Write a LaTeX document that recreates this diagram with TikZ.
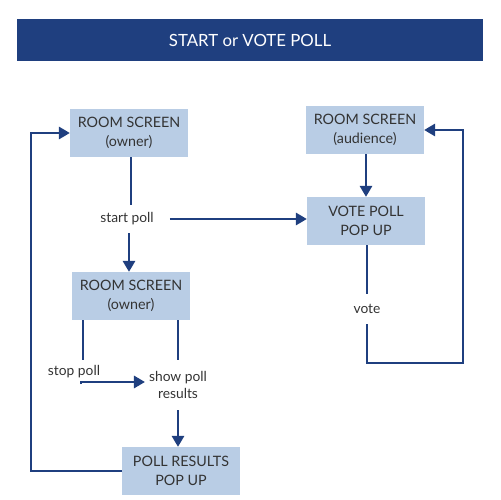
\documentclass[tikz,border=0pt]{standalone}
\usepackage{fontspec}
\setmainfont{Lato}
\usetikzlibrary{arrows.meta,calc}
\definecolor{navy}{HTML}{1F3F7F}
\definecolor{boxblue}{HTML}{B9CDE5}
\definecolor{txt}{HTML}{333333}
\begin{document}
\begin{tikzpicture}[x=1pt,y=-1pt,
  box/.style={fill=boxblue,minimum width=118pt,minimum height=48pt,inner sep=0pt,align=center,text=txt,font=\fontsize{14.3}{18.5}\selectfont},
  lbl/.style={inner sep=0pt,align=center,text=txt,font=\fontsize{13.8}{17}\selectfont},
  conn/.style={draw=navy,line width=1.8pt},
  arr/.style={conn,-{Triangle[length=11pt,width=12.5pt]}}]
\useasboundingbox (0,0) rectangle (501,500);
\node[fill=navy,minimum width=466pt,minimum height=42pt,inner sep=0pt,text=white,font=\fontsize{16.8}{20}\selectfont] (hdr) at (250,40) {START or VOTE POLL};
\node[box] (o1) at (129,133) {ROOM SCREEN\\(owner)};
\node[box] (aud) at (365,130) {ROOM SCREEN\\(audience)};
\node[box] (vp) at (366,221) {VOTE POLL\\POP UP};
\node[box] (o2) at (131,296) {ROOM SCREEN\\(owner)};
\node[box] (pr) at (181,471) {POLL RESULTS\\POP UP};
\node[lbl,minimum height=28pt] (sp) at (127,219) {start poll};
\node[lbl,minimum height=30pt] (vt) at (367,309) {vote};
\node[lbl,minimum height=24pt] (stp) at (74,372) {stop poll};
\node[lbl,minimum height=50pt] (spr) at (178,385) {show poll\\results};
\coordinate (c1) at (463,363);
\coordinate (c2) at (31,471);
\draw[conn] ([xshift=2pt]o1.south) -- ([xshift=2pt]o1.south |- sp.north);
\draw[arr] ([xshift=2pt]sp.south) -- ([xshift=2pt]sp.south |- o2.north);
\draw[arr] ([xshift=16pt]sp.east) -- (sp.east -| vp.west);
\draw[arr] (aud.south -| vp.north) -- (vp.north);
\draw[conn] (vp.south -| vt.north) -- (vt.north);
\draw[arr] (vt.south) |- (c1) |- (aud.east);
\draw[conn] ([xshift=-48pt]o2.south) -- ([xshift=-48pt]o2.south |- stp.north);
\draw[arr] ([xshift=7pt]stp.south) |- ([xshift=-4pt,yshift=3pt]spr.west);
\draw[conn] (o2.south -| spr.north) -- (spr.north);
\draw[arr] (spr.south) -- (pr.north -| spr.south);
\draw[arr] (pr.west) -- (c2) |- (o1.west);
\end{tikzpicture}
\end{document}
